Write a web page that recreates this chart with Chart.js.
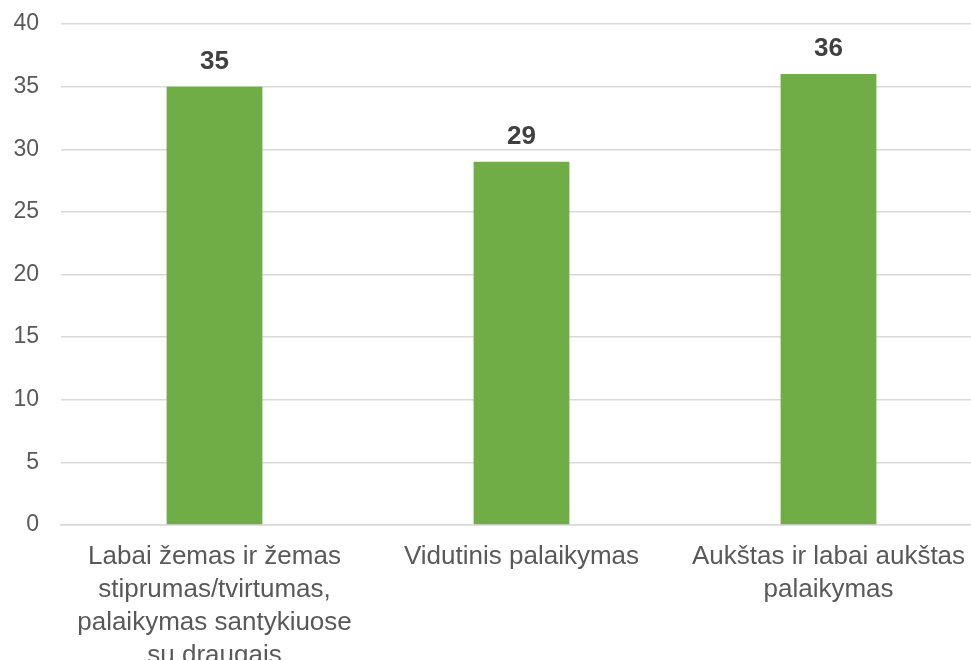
<!DOCTYPE html>
<html>
<head>
<meta charset="utf-8">
<script src="https://cdn.jsdelivr.net/npm/chart.js@4/dist/chart.umd.min.js"></script>
<style>
  html, body { margin: 0; padding: 0; overflow: hidden; background: #fff; }
  #wrap { position: absolute; left: 0; top: 0; width: 982px; height: 690px; }
</style>
</head>
<body>
<div id="wrap"><canvas id="chart"></canvas></div>
<script>
const categories = [
  ['Labai žemas ir žemas', 'stiprumas/tvirtumas,', 'palaikymas santykiuose', 'su draugais'],
  ['Vidutinis palaikymas'],
  ['Aukštas ir labai aukštas', 'palaikymas']
];
const values = [35, 29, 36];
const yTicks = [0, 5, 10, 15, 20, 25, 30, 35, 40];

document.addEventListener('DOMContentLoaded', () => {
  const ctx = document.getElementById('chart').getContext('2d');

  // draws the bold number above each bar
  const barLabels = {
    id: 'barLabels',
    afterDatasetsDraw(chart) {
      const c = chart.ctx;
      const meta = chart.getDatasetMeta(0);
      c.save();
      c.font = 'bold 26px "Liberation Sans", Arial, sans-serif';
      c.fillStyle = '#404040';
      c.textAlign = 'center';
      c.textBaseline = 'alphabetic';
      meta.data.forEach((bar, i) => {
        c.fillText(String(values[i]), bar.x, bar.y - 18);
      });
      c.restore();
    }
  };

  new Chart(ctx, {
    type: 'bar',
    data: {
      labels: categories,
      datasets: [{
        data: values,
        backgroundColor: '#70AD47',
        borderWidth: 0,
        categoryPercentage: 1,
        barPercentage: 0.312
      }]
    },
    options: {
      responsive: true,
      maintainAspectRatio: false,
      animation: false,
      layout: { padding: { top: 24, right: 0, left: 0, bottom: 0 } },
      plugins: {
        legend: { display: false },
        tooltip: { enabled: false }
      },
      scales: {
        x: {
          grid: { display: false, drawTicks: false },
          border: { display: true, color: '#d9d9d9', width: 1.5 },
          ticks: {
            color: '#595959',
            padding: 15,
            maxRotation: 0,
            autoSkip: false,
            font: { family: '"Liberation Sans", Arial, sans-serif', size: 26, lineHeight: 1.27 }
          },
          afterFit(axis) { axis.height = 690 - 525; }
        },
        y: {
          min: 0,
          max: 40,
          afterBuildTicks(axis) { axis.ticks = yTicks.map(v => ({ value: v })); },
          grid: { color: '#d9d9d9', lineWidth: 1.5, drawTicks: false },
          border: { display: false },
          ticks: {
            color: '#595959',
            padding: 22,
            font: { family: '"Liberation Sans", Arial, sans-serif', size: 23 }
          },
          afterFit(axis) {
            axis.width = 61;
            axis.paddingTop = 0;
            axis.paddingBottom = 0;
          }
        }
      }
    },
    plugins: [barLabels]
  });
});
</script>
</body>
</html>
